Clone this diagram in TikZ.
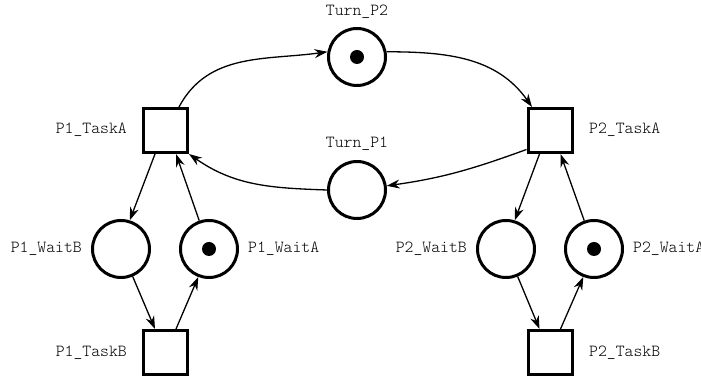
\documentclass[tikz,border=0pt]{standalone}
\usepackage{fontspec}
\setmonofont{Latin Modern Mono Light}
\usetikzlibrary{arrows.meta}
\begin{document}
\begin{tikzpicture}[x=1pt,y=1pt,
  place/.style={circle,draw,line width=3pt,minimum size=57pt,inner sep=0pt},
  transition/.style={rectangle,draw,line width=3pt,minimum size=44pt,inner sep=0pt},
  token/.style={circle,fill,minimum size=14pt,inner sep=0pt},
  lbl/.style={font=\ttfamily\fontsize{16.9}{18}\selectfont,inner sep=0pt},
  arc/.style={line width=1.3pt,-{Stealth[length=13pt,width=9pt]}}]
\useasboundingbox (0,0) rectangle (701,379);

% places
\node[place] (TurnP2) at (357,322) {};
\node[place] (TurnP1) at (357,189) {};
\node[place] (P1WaitB) at (121,130) {};
\node[place] (P1WaitA) at (209,130) {};
\node[place] (P2WaitB) at (506,130) {};
\node[place] (P2WaitA) at (594,130) {};

% transitions
\node[transition] (P1TaskA) at (165.5,248.5) {};
\node[transition] (P2TaskA) at (550,248.5) {};
\node[transition] (P1TaskB) at (165.5,26.5) {};
\node[transition] (P2TaskB) at (550,26.5) {};

% tokens
\node[token] (tokT) at (TurnP2) {};
\node[token] (tokA1) at (P1WaitA) {};
\node[token] (tokA2) at (P2WaitA) {};

% labels
\node[lbl,anchor=base] (lTurnP2) at (357,363.5) {Turn\_P2};
\node[lbl,anchor=base] (lTurnP1) at (357,231) {Turn\_P1};
\node[lbl,anchor=base east] (lP1TaskA) at (127,245) {P1\_TaskA};
\node[lbl,anchor=base west] (lP2TaskA) at (589,245) {P2\_TaskA};
\node[lbl,anchor=base east] (lP1WaitB) at (82,126) {P1\_WaitB};
\node[lbl,anchor=base west] (lP1WaitA) at (248,126) {P1\_WaitA};
\node[lbl,anchor=base east] (lP2WaitB) at (467,126) {P2\_WaitB};
\node[lbl,anchor=base west] (lP2WaitA) at (633,126) {P2\_WaitA};
\node[lbl,anchor=base east] (lP1TaskB) at (127,22) {P1\_TaskB};
\node[lbl,anchor=base west] (lP2TaskB) at (589,22) {P2\_TaskB};

% turn-taking ring
\draw[arc] ([xshift=13.5pt]P1TaskA.north) to[out=62,in=188] (TurnP2.170);
\draw[arc] (TurnP2.10) to[out=0,in=125] ([xshift=-18pt]P2TaskA.north);
\draw[arc] ([yshift=-19pt]P2TaskA.west) to[out=200,in=8] (TurnP1.8);
\draw[arc] (TurnP1.180) to[out=178,in=-35] (P1TaskA.south east);

% process 1 loop
\draw[arc] ([xshift=-10.5pt]P1TaskA.south) -- (P1WaitB.73);
\draw[arc] (P1WaitA.109) -- ([xshift=10.5pt]P1TaskA.south);
\draw[arc] (P1WaitB.293) -- ([xshift=-10.5pt]P1TaskB.north);
\draw[arc] ([xshift=10.5pt]P1TaskB.north) -- (P1WaitA.249);

% process 2 loop
\draw[arc] ([xshift=-10.5pt]P2TaskA.south) -- (P2WaitB.73);
\draw[arc] (P2WaitA.109) -- ([xshift=10.5pt]P2TaskA.south);
\draw[arc] (P2WaitB.293) -- ([xshift=-10.5pt]P2TaskB.north);
\draw[arc] ([xshift=10.5pt]P2TaskB.north) -- (P2WaitA.249);
\end{tikzpicture}
\end{document}
